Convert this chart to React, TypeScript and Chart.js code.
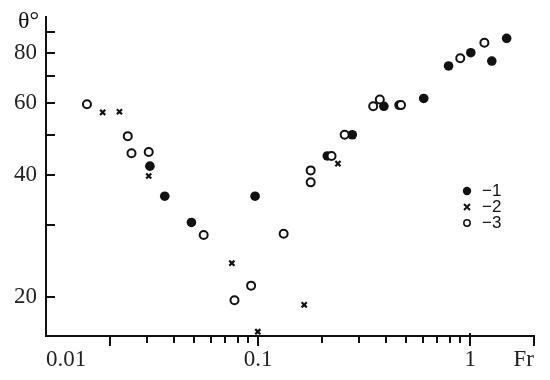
import { useEffect, useRef } from "react";
import { Chart, registerables } from "chart.js";

Chart.register(...registerables);

// ---- data ----
const seriesLabels = ["−1", "−2", "−3"];

// series 1: filled circles
const s1X = [0.0309, 0.0363, 0.0485, 0.0968, 0.212, 0.278, 0.392, 0.462, 0.604, 0.791, 1.007, 1.265, 1.486];
const s1Y = [42.0, 35.4, 30.5, 35.4, 44.5, 50.2, 59.0, 59.4, 61.7, 74.2, 80.0, 76.3, 86.8];

// series 2: crosses
const s2X = [0.0185, 0.0222, 0.0305, 0.0752, 0.0997, 0.165, 0.238];
const s2Y = [57.0, 57.2, 39.7, 24.2, 16.4, 19.1, 42.6];

// series 3: open circles
const s3X = [0.0156, 0.0243, 0.0253, 0.0305, 0.0554, 0.0774, 0.0927, 0.132, 0.177, 0.177, 0.222, 0.256, 0.349, 0.375, 0.472, 0.898, 1.167];
const s3Y = [59.7, 49.8, 45.2, 45.5, 28.4, 19.6, 21.3, 28.6, 41.0, 38.3, 44.5, 50.2, 59.0, 61.3, 59.4, 77.5, 84.7];

// axes
const xMin = 0.01;
const xMax = 2;
const yMin = 16;
const yMax = 98;
const xTickValues = [0.01, 0.02, 0.03, 0.04, 0.05, 0.06, 0.07, 0.08, 0.09, 0.1, 0.2, 0.3, 0.4, 0.5, 0.6, 0.7, 0.8, 0.9, 1, 2];
const xLabelValues = [0.01, 0.1, 1, 2];
const xLabelTexts = ["0.01", "0.1", "1", "Fr"];
const xLongTicks = [0.02, 0.1, 1, 2];
const yTickValues = [20, 30, 40, 50, 60, 70, 80, 90];
const yLabelValues = [20, 40, 60, 80];
const yAxisTitle = "θ°";

const INK = "#111";

const near = (a: number, b: number) => Math.abs(a - b) / b < 1e-6;

const toPoints = (xs: number[], ys: number[]) => xs.map((x, i) => ({ x, y: ys[i] }));

const decorPlugin = {
  id: "decor",
  afterDraw(chart: any) {
    const ctx = chart.ctx as CanvasRenderingContext2D;
    const xs = chart.scales.x;
    const ys = chart.scales.y;
    const area = chart.chartArea;
    ctx.save();
    ctx.strokeStyle = INK;
    ctx.fillStyle = INK;
    ctx.lineWidth = 2;
    // y ticks (inward)
    for (const v of yTickValues) {
      const py = Math.round(ys.getPixelForValue(v));
      ctx.beginPath();
      ctx.moveTo(area.left, py);
      ctx.lineTo(area.left + 9, py);
      ctx.stroke();
    }
    // x ticks (outward)
    for (const v of xTickValues) {
      if (near(v, xMin)) continue;
      const px = Math.round(xs.getPixelForValue(v));
      const long = xLongTicks.some((t) => near(t, v));
      ctx.beginPath();
      ctx.moveTo(px, area.bottom - (near(v, 1) ? 3 : 0));
      ctx.lineTo(px, area.bottom + (long ? 10 : 7));
      ctx.stroke();
    }
    // y axis title
    ctx.font = "24px 'Liberation Serif'";
    ctx.textAlign = "left";
    ctx.textBaseline = "alphabetic";
    ctx.fillText(yAxisTitle, 18, 28);

    // legend
    const lx = 467;
    const rows = [191, 207, 223];
    ctx.font = "17px 'Liberation Sans'";
    ctx.textBaseline = "middle";
    chart.data.datasets.forEach((ds: any, i: number) => {
      const cy = rows[i];
      ctx.lineWidth = 2;
      if (ds.pointStyle === "crossRot") {
        const r = 3;
        ctx.beginPath();
        ctx.moveTo(lx - r, cy - r);
        ctx.lineTo(lx + r, cy + r);
        ctx.moveTo(lx + r, cy - r);
        ctx.lineTo(lx - r, cy + r);
        ctx.stroke();
      } else if (ds.backgroundColor === INK) {
        ctx.beginPath();
        ctx.arc(lx, cy, 4.2, 0, Math.PI * 2);
        ctx.fill();
      } else {
        ctx.lineWidth = 1.5;
        ctx.beginPath();
        ctx.arc(lx, cy, 3.2, 0, Math.PI * 2);
        ctx.stroke();
      }
      ctx.fillText(ds.label, lx + 15, cy);
    });
    ctx.restore();
  },
};

export default function App() {
  const ref = useRef<HTMLCanvasElement | null>(null);
  useEffect(() => {
    if (!ref.current) return;
    const chart = new Chart(ref.current, {
      type: "scatter",
      data: {
        datasets: [
          {
            label: seriesLabels[0],
            data: toPoints(s1X, s1Y),
            pointStyle: "circle",
            pointRadius: 4.8,
            pointHoverRadius: 4.8,
            backgroundColor: INK,
            borderColor: INK,
            borderWidth: 0,
            order: 2,
          },
          {
            label: seriesLabels[1],
            data: toPoints(s2X, s2Y),
            pointStyle: "crossRot",
            pointRadius: 3.6,
            pointHoverRadius: 3.6,
            backgroundColor: INK,
            borderColor: INK,
            borderWidth: 2.2,
            order: 1,
          },
          {
            label: seriesLabels[2],
            data: toPoints(s3X, s3Y),
            pointStyle: "circle",
            pointRadius: 4,
            pointHoverRadius: 4,
            backgroundColor: "#fff",
            borderColor: INK,
            borderWidth: 2,
            order: 0,
          },
        ],
      },
      options: {
        responsive: false,
        animation: false,
        events: [],
        layout: { padding: { left: 0, right: 16, top: 17, bottom: 0 } },
        plugins: { legend: { display: false }, tooltip: { enabled: false } },
        scales: {
          x: {
            type: "logarithmic",
            min: xMin,
            max: xMax,
            grid: { display: false, drawTicks: false },
            border: { display: true, color: INK, width: 2 },
            afterBuildTicks: (scale: any) => {
              scale.ticks = xTickValues.map((value) => ({ value }));
            },
            afterFit: (scale: any) => {
              scale.height = 44;
              scale.paddingLeft = 0;
              scale.paddingRight = 0;
            },
            ticks: {
              autoSkip: false,
              maxRotation: 0,
              minRotation: 0,
              align: "inner",
              padding: 10,
              color: "#222",
              font: { family: "'Liberation Serif'", size: 23 },
              callback: (value: any) => {
                const idx = xLabelValues.findIndex((t) => near(t, Number(value)));
                return idx >= 0 ? xLabelTexts[idx] : "";
              },
            },
          },
          y: {
            type: "logarithmic",
            min: yMin,
            max: yMax,
            grid: { display: false, drawTicks: false },
            border: { display: true, color: INK, width: 2 },
            afterBuildTicks: (scale: any) => {
              scale.ticks = yTickValues.map((value) => ({ value }));
            },
            afterFit: (scale: any) => {
              scale.width = 46;
              scale.paddingTop = 0;
              scale.paddingBottom = 0;
            },
            ticks: {
              autoSkip: false,
              padding: 9,
              color: "#222",
              font: { family: "'Liberation Serif'", size: 23 },
              callback: (value: any) => {
                const v = Number(value);
                return yLabelValues.some((t) => near(t, v)) ? String(v) : "";
              },
            },
          },
        },
      },
      plugins: [decorPlugin],
    });
    return () => chart.destroy();
  }, []);
  return (
    <div style={{ position: "absolute", left: 0, top: 0, width: 550, height: 380, background: "#fff" }}>
      <canvas ref={ref} width={550} height={380} style={{ display: "block" }} />
    </div>
  );
}
